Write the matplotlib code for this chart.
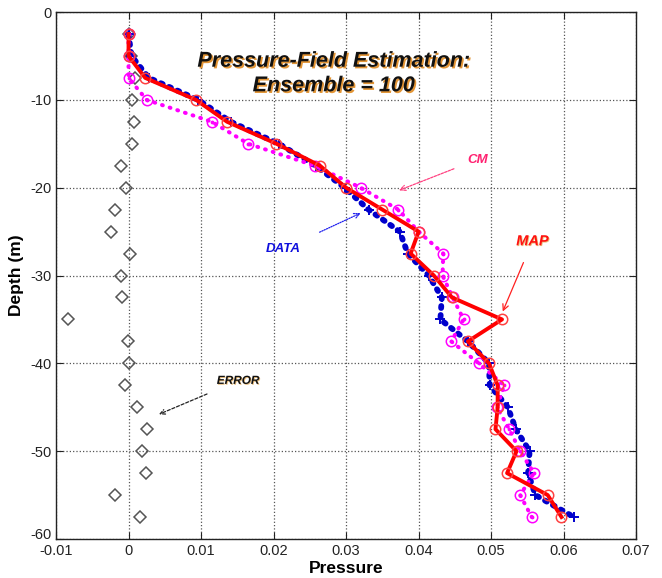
import matplotlib
matplotlib.use("Agg")
import matplotlib.pyplot as plt
import matplotlib.patheffects as pe
import matplotlib.transforms as mtransforms

plt.rcParams['font.family'] = ['Liberation Sans', 'DejaVu Sans']
plt.rcParams['axes.unicode_minus'] = False

# Depth of each estimation point (m)
depth = [-2.5, -5, -7.5, -10, -12.5, -15, -17.5, -20, -22.5, -25, -27.5, -30,
         -32.5, -35, -37.5, -40, -42.5, -45, -47.5, -50, -52.5, -55, -57.5]

# Observed pressure
data_p = [0.0, 0.0004, 0.0028, 0.0096, 0.0141, 0.0207, 0.0258, 0.0298, 0.0331,
          0.0374, 0.0385, 0.0414, 0.0432, 0.0430, 0.0468, 0.0497, 0.0498, 0.0523,
          0.0534, 0.0553, 0.0551, 0.0561, 0.0614]

# Maximum a posteriori estimate
map_p = [0.0, 0.0, 0.0023, 0.0093, 0.0136, 0.0204, 0.0264, 0.0300, 0.0350,
         0.0400, 0.0389, 0.0421, 0.0446, 0.0515, 0.0468, 0.0497, 0.0509, 0.0509,
         0.0506, 0.0535, 0.0522, 0.0578, 0.0597]

# Conditional mean estimate
cm_p = [0.0, 0.0, 0.0, 0.0025, 0.0115, 0.0165, 0.0257, 0.0320, 0.0372, 0.0400,
        0.0434, 0.0433, 0.0447, 0.0462, 0.0445, 0.0483, 0.0518, 0.0508, 0.0525,
        0.0540, 0.0559, 0.0540, 0.0556]

# Estimation error
err_p = [0.0, 0.0004, 0.0009, 0.0005, 0.0008, 0.0005, -0.0011, -0.0003, -0.0018,
         -0.0024, 0.0002, -0.0011, -0.0009, -0.0083, -0.0001, 0.0001, -0.0005,
         0.0011, 0.0026, 0.0019, 0.0024, -0.0018, 0.0016]

xticks = [-0.01, 0, 0.01, 0.02, 0.03, 0.04, 0.05, 0.06, 0.07]
xticklabels = ['-0.01', '0', '0.01', '0.02', '0.03', '0.04', '0.05', '0.06', '0.07']
yticks = [0, -10, -20, -30, -40, -50, -60]
yticklabels = ['0', '-10', '-20', '-30', '-40', '-50', '-60']

fig = plt.figure(figsize=(6.62, 5.78), dpi=100)
ax = fig.add_axes([0.0846, 0.0675, 0.8764, 0.9117])

# error diamonds
ax.plot(err_p, depth, linestyle='none', marker='D', markersize=6.5,
        markerfacecolor='none', markeredgecolor='#555555', markeredgewidth=1.1)

# observed data: bold blue dots
ax.plot(data_p, depth, color='#0000cc', linestyle=(0, (0.35, 1.2)), linewidth=4.2,
        dash_capstyle='round', zorder=3)
# plus markers at the observation depths
ax.plot(data_p, depth, color='#0000cc', linestyle='none', marker='+', markersize=7.5,
        markeredgewidth=1.4, zorder=3)

# conditional mean: magenta dots, circled-dot markers
ax.plot(cm_p, depth, color='#ff00ff', linestyle=(0, (0.2, 1.8)), linewidth=2.9,
        dash_capstyle='round', marker='o', markersize=7.5, markerfacecolor='none',
        markeredgewidth=1.1, zorder=3)
ax.plot(cm_p, depth, linestyle='none', marker='.', markersize=3.5, color='#ff00ff', zorder=3)

# MAP estimate: solid red
ax.plot(map_p, depth, color='#ff0000', linewidth=2.8, marker='o', markersize=7.5,
        markerfacecolor='none', markeredgecolor='#ff4040', markeredgewidth=1.1, zorder=4)

ax.set_xlim(-0.01, 0.07)
ax.set_ylim(-60, 0)
ax.set_xticks(xticks)
ax.set_xticklabels(xticklabels)
ax.set_yticks(yticks)
ax.set_yticklabels(yticklabels)
ax.tick_params(direction='in', top=True, right=True, length=5, labelsize=10.5,
               width=0.8, colors='#222222')
ax.grid(True, color='#555555', linestyle=':', linewidth=0.9)
for s in ax.spines.values():
    s.set_color('#222222')
    s.set_linewidth(1.0)

# lift the lowest depth label so it sits above the first pressure label
lowest = ax.get_yticklabels()[-1]
lowest.set_transform(lowest.get_transform() +
                     mtransforms.ScaledTranslation(0, 4 / 72, fig.dpi_scale_trans))

ax.set_xlabel('Pressure', fontsize=12.5, fontweight='bold', labelpad=2)
ax.set_ylabel('Depth (m)', fontsize=12.5, fontweight='bold', labelpad=4)

shadow = [pe.SimplePatchShadow(offset=(1.2, -1.2), shadow_rgbFace='#e08a20', alpha=0.9),
          pe.Normal()]
ax.text(0.0283, -5.6, 'Pressure-Field Estimation:', fontsize=15.5, fontweight='bold',
        fontstyle='italic', ha='center', va='center', color='#111111', path_effects=shadow)
ax.text(0.0283, -8.4, 'Ensemble = 100', fontsize=15.5, fontweight='bold',
        fontstyle='italic', ha='center', va='center', color='#111111', path_effects=shadow)

small_shadow = [pe.SimplePatchShadow(offset=(0.6, -0.6), shadow_rgbFace='#e0a040', alpha=0.7),
                pe.Normal()]
ax.annotate('CM', xy=(0.0373, -20.3), xytext=(0.0481, -16.8), fontsize=9.5,
            fontweight='bold', fontstyle='italic', color='#ff2070', ha='center', va='center',
            arrowprops=dict(arrowstyle='->', color='#ff4080', linestyle=(0, (2, 1)),
                            linewidth=0.9, shrinkA=8, shrinkB=0))
ax.annotate('DATA', xy=(0.0320, -22.9), xytext=(0.0213, -27.0), fontsize=9.5,
            fontweight='bold', fontstyle='italic', color='#1010dd', ha='center', va='center',
            arrowprops=dict(arrowstyle='->', color='#2020ee', linestyle=(0, (1, 1)),
                            linewidth=0.9, shrinkA=14, shrinkB=0))
ax.annotate('MAP', xy=(0.0516, -34.1), xytext=(0.0557, -26.1), fontsize=10.5,
            fontweight='bold', fontstyle='italic', color='#ff1010', ha='center', va='center',
            path_effects=small_shadow,
            arrowprops=dict(arrowstyle='->', color='#ff2020', linewidth=0.9,
                            shrinkA=9, shrinkB=0))
ax.annotate('ERROR', xy=(0.0042, -45.8), xytext=(0.0151, -42.0), fontsize=8.5,
            fontweight='bold', fontstyle='italic', color='#111111', ha='center', va='center',
            path_effects=small_shadow,
            arrowprops=dict(arrowstyle='->', color='#222222', linestyle=(0, (2.5, 1.5)),
                            linewidth=0.9, shrinkA=8, shrinkB=0))

fig.savefig('out.png', dpi=100)
